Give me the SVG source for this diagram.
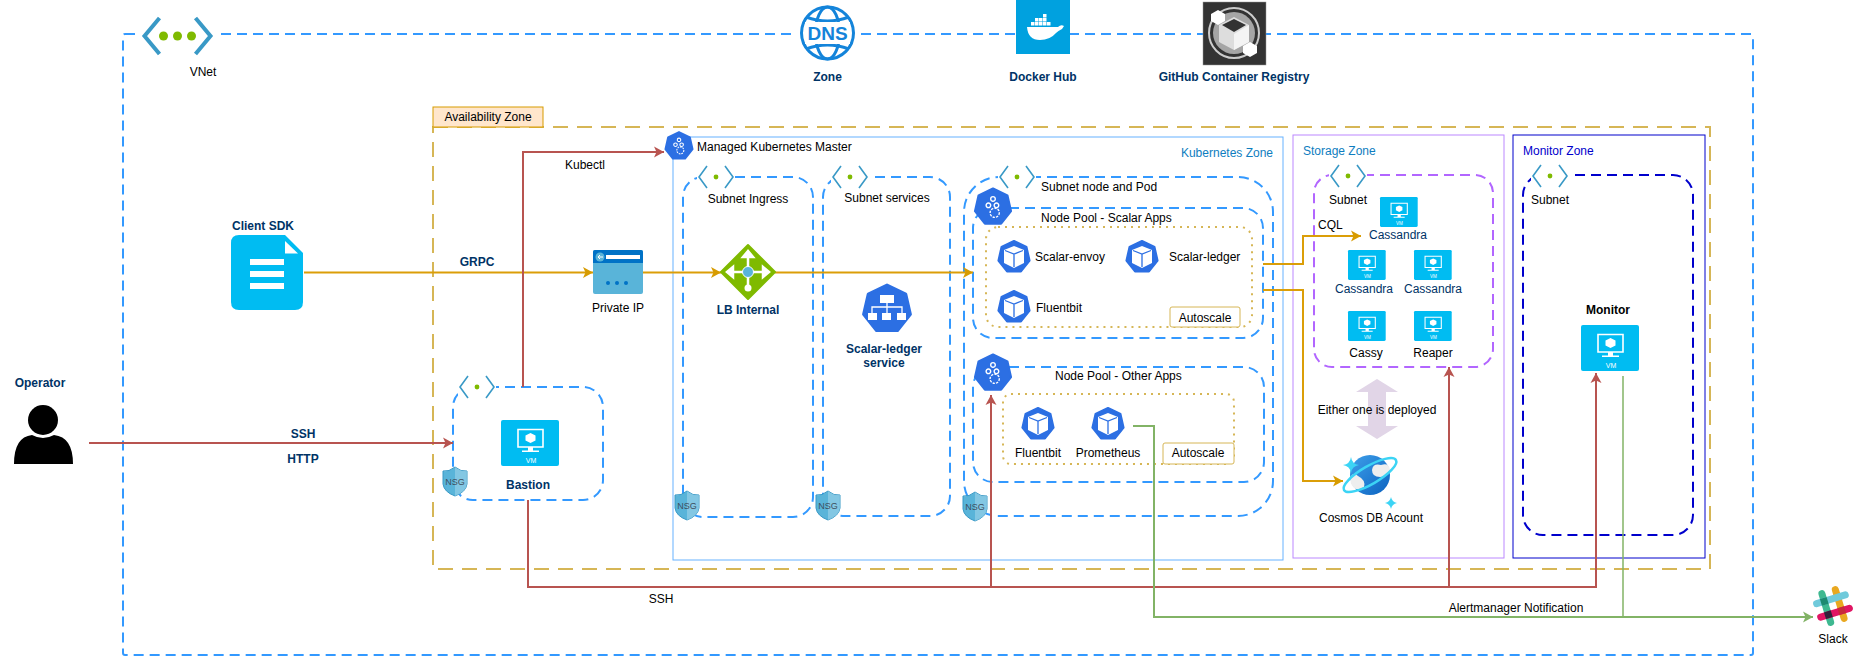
<svg xmlns="http://www.w3.org/2000/svg" width="1855" height="658" viewBox="0 0 1855 658">
<style>
text{font-family:"Liberation Sans",Arial,sans-serif;font-size:12px;fill:#000}
.m{text-anchor:middle}
.b{font-weight:bold;fill:#003366}
.n{fill:#003366}
.bk{font-weight:bold;fill:#000}
.z{fill:none;stroke-width:1}
.d{fill:none;stroke:#3399FF;stroke-width:2;stroke-dasharray:10 6}
.dot{fill:none;stroke:#D6B656;stroke-width:2;stroke-dasharray:2 5}
.as{fill:#fff;stroke:#D6B656;stroke-width:1}
.cg{fill:none;stroke:#DB9E08;stroke-width:2}
.cr{fill:none;stroke:#B85450;stroke-width:2}
.cn{fill:none;stroke:#82B366;stroke-width:2}
</style>
<defs>
<marker id="ag" markerUnits="userSpaceOnUse" markerWidth="12" markerHeight="12" refX="10" refY="6" orient="auto"><path d="M0,0.5 L10,6 L0,11.5 L2.5,6z" fill="#D79B00"/></marker>
<marker id="ar" markerUnits="userSpaceOnUse" markerWidth="12" markerHeight="12" refX="10" refY="6" orient="auto"><path d="M0,0.5 L10,6 L0,11.5 L2.5,6z" fill="#B85450"/></marker>
<marker id="an" markerUnits="userSpaceOnUse" markerWidth="12" markerHeight="12" refX="10" refY="6" orient="auto"><path d="M0,0.5 L10,6 L0,11.5 L2.5,6z" fill="#82B366"/></marker>
<linearGradient id="gl" x1="0" y1="0" x2="1" y2="1"><stop offset="0" stop-color="#3FA0EA"/><stop offset="1" stop-color="#0B62C0"/></linearGradient>
<g id="hex"><polygon points="0,-16 12.5,-10 15.6,3.6 7,14.4 -7,14.4 -15.6,3.6 -12.5,-10" fill="#2C6FE3" stroke="#2C6FE3" stroke-width="2" stroke-linejoin="round"/></g>
<g id="pod"><use href="#hex"/><path d="M0,-11 L10,-7 L10,6 L0,11 L-10,6 L-10,-7z" fill="#fff"/><path d="M-9,-6.500 L0,-3 L9,-6.500 M0,-3 L0,10" fill="none" stroke="#2C6FE3" stroke-width="1.300"/></g>
<g id="gears"><use href="#hex"/><g fill="none" stroke="#fff" stroke-width="1.200"><circle cx="0" cy="-7" r="2"/><circle cx="-4" cy="-1.500" r="2"/><circle cx="3" cy="-1.500" r="2"/><circle cx="1.500" cy="5" r="4" stroke-dasharray="2 1"/></g></g>
<g id="sub"><rect x="-19" y="-13" width="38" height="26" fill="#fff"/><path d="M-9,-11 L-17,0 L-9,11 M9,-11 L17,0 L9,11" fill="none" stroke="#3999C6" stroke-width="1.600"/><circle r="2.400" fill="#7FBA00"/></g>
<g id="vm"><rect width="58" height="46" rx="2" fill="#00BCF2"/><path d="M17,9.500 H42 V27 H17z" fill="#00BCF2" stroke="#fff" stroke-width="1.600"/><path d="M29.500,13 L34.500,15.500 L34.500,20.500 L29.500,23 L24.500,20.500 L24.500,15.500z" fill="#fff"/><path d="M27,27 H32 V30.500 H38 V32 H21 V30.500 H27z" fill="#fff"/><text x="30" y="43" class="m" style="font-size:7px;fill:#fff">VM</text></g>
<g id="nsg"><path d="M0,0 Q6,5 12,4 V17 Q11,25 0,29 Q-11,25 -12,17 V4 Q-6,5 0,0z" fill="#59B4D9" stroke="#3999C6" stroke-width="1"/><path d="M0,0 Q6,5 12,4 V17 Q11,25 0,29z" fill="#A0D4EA" opacity=".6"/><text y="18" class="m" style="font-size:9px;fill:#3E4F5F">NSG</text></g>
</defs>

<g id="vnet">
<rect x="123" y="34" width="1630" height="621" rx="2" class="d"/>
<rect x="138" y="12" width="80" height="46" fill="#fff"/>
<g transform="translate(177.500,36)"><path d="M-18,-18 L-33,0 L-18,18 M18,-18 L33,0 L18,18" fill="none" stroke="#3999C6" stroke-width="4"/><circle cx="-14" r="4.500" fill="#7FBA00"/><circle r="4.500" fill="#7FBA00"/><circle cx="14" r="4.500" fill="#7FBA00"/></g>
<text x="203" y="76" class="m">VNet</text>
</g>

<g id="availability-zone">
<rect x="433" y="127" width="1277" height="442" fill="none" stroke="#D6B656" stroke-width="2" stroke-dasharray="15 9"/>
<rect x="433" y="107" width="110" height="20" fill="#FFE6CC" stroke="#D79B00"/>
<text x="488" y="121" class="m">Availability Zone</text>
</g>

<g id="kubernetes-zone">
<rect x="673" y="137" width="610" height="423" class="z" stroke="#66B2FF"/>
<text x="1273" y="157" style="fill:#0E7DC0;text-anchor:end">Kubernetes Zone</text>
</g>
<g id="storage-zone">
<rect x="1293" y="135" width="211" height="423" class="z" stroke="#BB88FF"/>
<text x="1303" y="155" style="fill:#0E7DC0">Storage Zone</text>
</g>
<g id="monitor-zone">
<rect x="1513" y="135" width="192" height="423" class="z" stroke="#0000CC"/>
<text x="1523" y="155" style="fill:#0000CC">Monitor Zone</text>
</g>

<g id="subnet-ingress"><rect x="683" y="177" width="130" height="340" rx="20" class="d"/></g>
<g id="subnet-services"><rect x="823" y="177" width="127" height="339" rx="20" class="d"/></g>
<g id="subnet-node-pod"><rect x="964" y="177" width="309" height="339" rx="35" class="d"/></g>
<g id="pool-scalar"><rect x="973" y="208" width="290" height="130" rx="20" class="d"/><rect x="986" y="227" width="266" height="100" rx="12" class="dot"/></g>
<g id="pool-other"><rect x="973" y="367" width="291" height="115" rx="20" class="d"/><rect x="1003" y="394" width="231" height="70" rx="8" class="dot"/></g>
<g id="subnet-bastion"><rect x="453" y="387" width="150" height="113" rx="20" class="d"/></g>
<g id="subnet-storage"><rect x="1314" y="175" width="179" height="192" rx="18" class="d" style="stroke:#B266FF"/></g>
<g id="subnet-monitor"><rect x="1523" y="175" width="170" height="360" rx="20" class="d" style="stroke:#0000CC"/></g>

<g id="connectors">
<path class="cg" d="M304,272.500 H593" marker-end="url(#ag)"/>
<path class="cg" d="M643,272.500 H721" marker-end="url(#ag)"/>
<path class="cg" d="M775,272.500 H973" marker-end="url(#ag)"/>
<path class="cg" d="M1263,264 H1303 V236 H1361" marker-end="url(#ag)"/>
<path class="cg" d="M1263,290 H1303 V481 H1343" marker-end="url(#ag)"/>
<path class="cr" d="M89,443 H453" marker-end="url(#ar)"/>
<path class="cr" d="M523,387 V152 H664" marker-end="url(#ar)"/>
<path class="cr" d="M528,500 V587 H991 V395" marker-end="url(#ar)"/>
<path class="cr" d="M991,587 H1449 V367" marker-end="url(#ar)"/>
<path class="cr" d="M1449,587 H1596 V373" marker-end="url(#ar)"/>
<path class="cn" d="M1133,426 H1154 V617 H1813" marker-end="url(#an)"/>
<path class="cn" d="M1623,376 V617" style="stroke-width:1.500"/>
<text x="303" y="438" class="m b">SSH</text>
<text x="303" y="463" class="m b">HTTP</text>
<text x="477" y="266" class="m b">GRPC</text>
<text x="565" y="169">Kubectl</text>
<text x="661" y="603" class="m">SSH</text>
<text x="1318" y="229">CQL</text>
<text x="1516" y="612" class="m">Alertmanager Notification</text>
</g>

<g id="dns"><rect x="796" y="2" width="64" height="62" fill="#fff"/>
<g fill="none" stroke="#1484DA" stroke-width="3"><circle cx="827.500" cy="33" r="26"/><ellipse cx="827.500" cy="33" rx="12" ry="26"/><path d="M806,17 Q827.500,25 849,17 M806,49 Q827.500,41 849,49"/></g>
<rect x="805" y="22" width="45" height="22" fill="#fff"/>
<text x="827.500" y="40" class="m" style="font-size:19px;font-weight:bold;fill:#1484DA">DNS</text>
<text x="827.500" y="81" class="m b">Zone</text></g>

<g id="docker-hub"><rect x="1016" y="0" width="54" height="54" fill="#00A1DF"/>
<path d="M1027,27 H1058 Q1061,24 1064,26 L1062,29 Q1058,31 1056,33 Q1050,40 1040,40 Q1028,40 1027,27z" fill="#fff"/>
<g fill="#fff"><rect x="1031" y="22" width="3.500" height="3.500"/><rect x="1035" y="22" width="3.500" height="3.500"/><rect x="1039" y="22" width="3.500" height="3.500"/><rect x="1043" y="22" width="3.500" height="3.500"/><rect x="1047" y="22" width="3.500" height="3.500"/><rect x="1035" y="18" width="3.500" height="3.500"/><rect x="1039" y="18" width="3.500" height="3.500"/><rect x="1043" y="18" width="3.500" height="3.500"/><rect x="1043" y="14" width="3.500" height="3.500"/></g>
<text x="1043" y="81" class="m b">Docker Hub</text></g>

<g id="github-registry"><rect x="1203" y="2" width="63" height="63" fill="#333" stroke="#999" stroke-width=".5"/>
<circle cx="1234" cy="33" r="25" fill="none" stroke="#ccc" stroke-width="2"/>
<circle cx="1234" cy="33" r="21" fill="#a5a5a5"/>
<path d="M1234,17 L1249,25 V42 L1234,50 L1219,42 V25z" fill="#ddd"/>
<path d="M1234,34 L1249,25 V42 L1234,50z" fill="#f4f4f4"/><path d="M1234,19 L1246,25 L1234,32 L1222,25z" fill="#333"/>
<path d="M1218,10 L1225,14 V21 L1218,25 L1211,21 V14z M1250,42 L1257,46 V53 L1250,57 L1243,53 V46z" fill="#fff"/>
<text x="1234" y="81" class="m b">GitHub Container Registry</text></g>

<g id="operator"><circle cx="43" cy="420" r="15" fill="#000"/><path d="M14,464 Q14,437 32,435 Q43,441 54,435 Q73,437 73,464z" fill="#000"/><text x="40" y="387" class="m b">Operator</text></g>

<g id="client-sdk"><path d="M239,235 H285 L303,253 V302 Q303,310 295,310 H239 Q231,310 231,302 V243 Q231,235 239,235z" fill="#00BCF2"/><path d="M285,241 L298,253.500 H285z" fill="#fff"/><rect x="250" y="259" width="34" height="6" fill="#fff"/><rect x="250" y="271" width="34" height="6" fill="#fff"/><rect x="250" y="283" width="34" height="6" fill="#fff"/><text x="263" y="230" class="m b">Client SDK</text></g>

<g id="private-ip"><rect x="593" y="250" width="50" height="44" rx="2" fill="#59B4D9"/><path d="M593,263 V252 Q593,250 595,250 H641 Q643,250 643,252 V263z" fill="#0072C6"/><rect x="606" y="255" width="34" height="4" fill="#fff"/><circle cx="600" cy="257" r="4.500" fill="#59B4D9"/><path d="M603,257 H598 M600,255 L598,257 L600,259" fill="none" stroke="#fff"/><circle cx="608" cy="283" r="2" fill="#0072C6"/><circle cx="617" cy="283" r="2" fill="#0072C6"/><circle cx="626" cy="283" r="2" fill="#0072C6"/><text x="618" y="312" class="m">Private IP</text></g>

<g id="lb-internal"><path d="M748,245 L775,272 L748,299 L721,272z" fill="#7FBA00" stroke="#7FBA00" stroke-width="2" stroke-linejoin="round"/><path d="M748,254 V290 M730,272 H766 M748,251 L743,257 H753z M727,272 L733,267 V277z M769,272 L763,267 V277z" stroke="#fff" stroke-width="2.500" fill="#fff"/><circle cx="748" cy="288" r="3.500" fill="#fff"/><circle cx="748" cy="272" r="5.500" fill="#59B4D9" stroke="#fff"/><text x="748" y="314" class="m b">LB Internal</text></g>

<g id="scalar-ledger-service"><use href="#hex" transform="translate(887,309) scale(1.500)"/><path d="M887,303 V313 M872,313 V307 H902 V313" fill="none" stroke="#fff" stroke-width="1.300"/><rect x="880" y="295" width="14" height="8" fill="#fff"/><rect x="868" y="313" width="9" height="7" fill="#fff"/><rect x="882" y="313" width="9" height="7" fill="#fff"/><rect x="897" y="313" width="9" height="7" fill="#fff"/><text x="884" y="353" class="m b">Scalar-ledger</text><text x="884" y="367" class="m b">service</text></g>

<g id="k8s-master"><use href="#gears" transform="translate(679,146) scale(.875)"/><text x="697" y="151">Managed Kubernetes Master</text></g>

<g id="subnet-ingress-label"><use href="#sub" x="716" y="177"/><text x="748" y="203" class="m">Subnet Ingress</text><use href="#nsg" x="687" y="491"/></g>
<g id="subnet-services-label"><use href="#sub" x="850" y="177"/><text x="887" y="202" class="m">Subnet services</text><use href="#nsg" x="828" y="491"/></g>
<g id="subnet-node-label"><use href="#sub" x="1017" y="177"/><text x="1041" y="191">Subnet node and Pod</text><use href="#nsg" x="975" y="492"/></g>
<g id="bastion"><use href="#sub" x="477" y="387"/><use href="#vm" x="501" y="420"/><use href="#nsg" x="455" y="467"/><text x="528" y="489" class="m b">Bastion</text></g>

<g id="node-pool-scalar"><use href="#gears" transform="translate(993,207) scale(1.150)"/><text x="1041" y="222">Node Pool - Scalar Apps</text></g>
<g id="scalar-envoy"><use href="#pod" x="1014" y="257"/><text x="1035" y="261">Scalar-envoy</text></g>
<g id="scalar-ledger"><use href="#pod" x="1142" y="257"/><text x="1169" y="261">Scalar-ledger</text></g>
<g id="fluentbit-a"><use href="#pod" x="1014" y="307"/><text x="1036" y="312">Fluentbit</text></g>
<g id="autoscale-a"><rect x="1170" y="307" width="70" height="20" rx="2" class="as"/><text x="1205" y="322" class="m">Autoscale</text></g>

<g id="node-pool-other"><use href="#gears" transform="translate(993,373) scale(1.150)"/><text x="1055" y="380">Node Pool - Other Apps</text></g>
<g id="fluentbit-b"><use href="#pod" x="1038" y="424"/><text x="1038" y="457" class="m">Fluentbit</text></g>
<g id="prometheus"><use href="#pod" x="1108" y="424"/><text x="1108" y="457" class="m">Prometheus</text></g>
<g id="autoscale-b"><rect x="1163" y="443" width="71" height="21" rx="2" class="as"/><text x="1198" y="457" class="m">Autoscale</text></g>

<g id="storage-subnet-label"><use href="#sub" x="1348" y="176"/><text x="1348" y="204" class="m">Subnet</text></g>
<g id="cassandra-1"><use href="#vm" transform="translate(1380,197) scale(.65)"/><text x="1398" y="239" class="m n">Cassandra</text></g>
<g id="cassandra-2"><use href="#vm" transform="translate(1348,250) scale(.65)"/><text x="1364" y="293" class="m n">Cassandra</text></g>
<g id="cassandra-3"><use href="#vm" transform="translate(1414,250) scale(.65)"/><text x="1433" y="293" class="m n">Cassandra</text></g>
<g id="cassy"><use href="#vm" transform="translate(1348,311) scale(.65)"/><text x="1366" y="357" class="m">Cassy</text></g>
<g id="reaper"><use href="#vm" transform="translate(1414,311) scale(.65)"/><text x="1433" y="357" class="m">Reaper</text></g>

<g id="either"><path d="M1377,379 L1398,392 H1386 V426 H1398 L1377,439 L1356,426 H1368 V392 H1356z" fill="#E1D5E7"/><text x="1377" y="414" class="m">Either one is deployed</text></g>

<g id="cosmos"><circle cx="1370" cy="475" r="20" fill="url(#gl)"/><path d="M1372,470 Q1373,463 1381,465 Q1389,462 1390,470 Q1388,477 1380,477 Q1372,477 1372,470z M1351,476 Q1354,472 1358,476 Q1366,480 1364,487 Q1358,491 1354,488 Q1349,483 1351,476z" fill="#eee"/><ellipse cx="1370" cy="475" rx="30" ry="9" fill="none" stroke="#3CD4F5" stroke-width="2.500" transform="rotate(-30 1370 475)"/><path d="M1351,457 Q1352,464 1359,465 Q1352,466 1351,473 Q1350,466 1343,465 Q1350,464 1351,457z M1391,497 Q1392,502 1397,503 Q1392,504 1391,509 Q1390,504 1385,503 Q1390,502 1391,497z" fill="#3CD4F5"/><text x="1371" y="522" class="m">Cosmos DB Acount</text></g>

<g id="monitor-subnet-label"><use href="#sub" x="1550" y="176"/><text x="1550" y="204" class="m">Subnet</text></g>
<g id="monitor"><text x="1608" y="314" class="m bk">Monitor</text><use href="#vm" x="1581" y="325"/></g>

<g id="slack"><g transform="translate(1833,606) rotate(-17)" fill="none" stroke-width="7" stroke-linecap="round"><path d="M-7,-15 V15" stroke="#3EB890"/><path d="M7,-15 V15" stroke="#E9A820"/><path d="M-15,-7 H15" stroke="#70CADB"/><path d="M-15,7 H15" stroke="#E01563"/><rect x="-10.500" y="-10.500" width="7" height="7" fill="#1D8A70" stroke="none"/><rect x="-10.500" y="3.500" width="7" height="7" fill="#33213A" stroke="none"/><rect x="3.500" y="3.500" width="7" height="7" fill="#C72A3A" stroke="none"/></g><text x="1833" y="643" class="m">Slack</text></g>
</svg>
